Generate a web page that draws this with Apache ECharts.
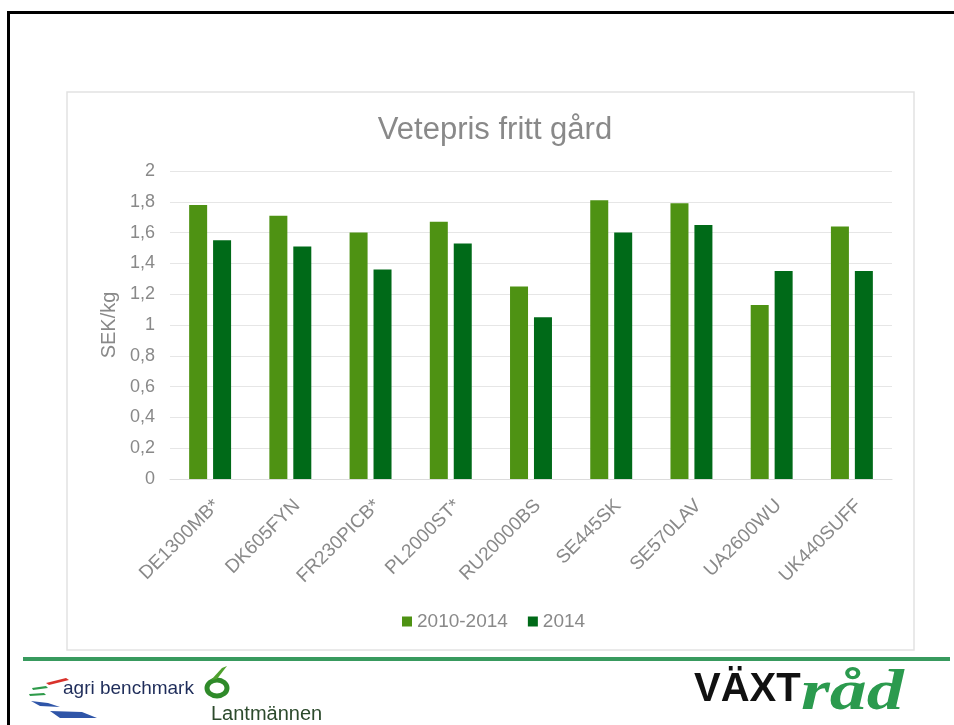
<!DOCTYPE html>
<html>
<head>
<meta charset="utf-8">
<script src="https://cdn.jsdelivr.net/npm/echarts@6/dist/echarts.min.js"></script>
<style>
  html, body { margin: 0; padding: 0; background: #fff; }
  #main { width: 954px; height: 725px; }
</style>
</head>
<body>
<div id="main"></div>
<script type="text/javascript">
  // gårdar (agri benchmark typgårdar)
  var categories = ['DE1300MB*', 'DK605FYN', 'FR230PICB*', 'PL2000ST*', 'RU20000BS', 'SE445SK', 'SE570LAV', 'UA2600WU', 'UK440SUFF'];
  var seriesNames = ['2010-2014', '2014'];
  var values2010_2014 = [1.78, 1.71, 1.60, 1.67, 1.25, 1.81, 1.79, 1.13, 1.64];
  var values2014 = [1.55, 1.51, 1.36, 1.53, 1.05, 1.60, 1.65, 1.35, 1.35];
  var yMin = 0, yMax = 2, yStep = 0.2;

  var grayText = '#898989';
  var font = '"Liberation Sans", Arial, sans-serif';

  var myChart = echarts.init(document.getElementById('main'), null, { renderer: 'canvas' });

  myChart.setOption({
    backgroundColor: '#fff',
    animation: false,
    title: {
      text: 'Vetepris fritt gård',
      left: 490,
      top: 110,
      textAlign: 'center',
      textStyle: { color: grayText, fontSize: 31, fontWeight: 'normal', fontFamily: font }
    },
    legend: {
      data: seriesNames,
      left: 397,
      top: 607,
      icon: 'rect',
      itemWidth: 10,
      itemHeight: 10,
      itemGap: 20,
      textStyle: { color: grayText, fontSize: 19, fontFamily: font }
    },
    grid: { left: 170, right: 62, top: 171, bottom: 246, containLabel: false },
    xAxis: {
      type: 'category',
      data: categories,
      axisLine: { show: true, lineStyle: { color: '#dcdcdc' } },
      axisTick: { show: false },
      axisLabel: {
        rotate: 45,
        interval: 0,
        margin: 17,
        verticalAlign: 'top',
        color: grayText,
        fontSize: 19,
        fontFamily: font
      }
    },
    yAxis: {
      type: 'value',
      min: yMin,
      max: yMax,
      interval: yStep,
      name: 'SEK/kg',
      nameLocation: 'middle',
      nameGap: 47,
      nameTextStyle: { color: grayText, fontSize: 20, fontFamily: font },
      axisLine: { show: false },
      axisTick: { show: false },
      splitLine: { lineStyle: { color: '#e6e6e6', width: 1 } },
      axisLabel: {
        margin: 15,
        color: grayText,
        fontSize: 18,
        fontFamily: font,
        formatter: function (v) { return String(Math.round(v * 10) / 10).replace('.', ','); }
      }
    },
    series: [
      {
        name: seriesNames[0],
        type: 'bar',
        barWidth: 18,
        barGap: '33%',
        itemStyle: { color: '#4e9213' },
        data: values2010_2014
      },
      {
        name: seriesNames[1],
        type: 'bar',
        barWidth: 18,
        itemStyle: { color: '#006a18' },
        data: values2014
      }
    ],
    graphic: [
      // slide frame
      { type: 'line', shape: { x1: 8.5, y1: 11, x2: 8.5, y2: 725 }, style: { stroke: '#000', lineWidth: 3 } },
      { type: 'line', shape: { x1: 7, y1: 12.5, x2: 954, y2: 12.5 }, style: { stroke: '#000', lineWidth: 3 } },
      // chart box
      { type: 'rect', shape: { x: 67, y: 92, width: 847, height: 558 }, style: { fill: null, stroke: '#e2e2e2', lineWidth: 1.5 }, z: -1 },
      // green separator
      { type: 'line', shape: { x1: 23, y1: 659, x2: 950, y2: 659 }, style: { stroke: '#389a5e', lineWidth: 4 } },
      // agri benchmark logo
      { type: 'polygon', shape: { points: [[46, 683], [66, 678], [69, 680], [49, 685]] }, style: { fill: '#d9322b' } },
      { type: 'polygon', shape: { points: [[32, 688], [46, 686], [48, 688], [33, 690]] }, style: { fill: '#2e9a4a' } },
      { type: 'polygon', shape: { points: [[29, 694], [44, 693], [46, 695], [30, 696]] }, style: { fill: '#2e9a4a' } },
      { type: 'polygon', shape: { points: [[31, 701], [48, 703], [60, 707], [40, 706]] }, style: { fill: '#2f55a8' } },
      { type: 'polygon', shape: { points: [[50, 711], [82, 712], [97, 718], [60, 718]] }, style: { fill: '#2f55a8' } },
      { type: 'text', x: 63, y: 689, style: { text: 'agri benchmark', fill: '#1f2d5a', font: '19px "Liberation Sans", sans-serif', textVerticalAlign: 'middle' } },
      // Lantmännen logo
      { type: 'ellipse', shape: { cx: 217, cy: 688, rx: 10, ry: 8 }, style: { fill: null, stroke: '#2f8a2a', lineWidth: 5 } },
      { type: 'polygon', shape: { points: [[211, 680], [222, 668], [227, 666], [217, 679]] }, style: { fill: '#4fa12e' } },
      { type: 'text', x: 211, y: 714, style: { text: 'Lantmännen', fill: '#2c4a2c', font: '20px "Liberation Sans", sans-serif', textVerticalAlign: 'middle' } },
      // VÄXTråd
      { type: 'text', x: 694, y: 690, style: { text: 'VÄXT', fill: '#111', font: 'bold 40px "Liberation Sans", Arial, sans-serif', textVerticalAlign: 'middle' } },
      { type: 'text', x: 801, y: 695, scaleX: 1.32, style: { text: 'råd', fill: '#2b9a4e', font: 'italic bold 56px "Liberation Serif", serif', textVerticalAlign: 'middle' } }
    ]
  });
</script>
</body>
</html>
